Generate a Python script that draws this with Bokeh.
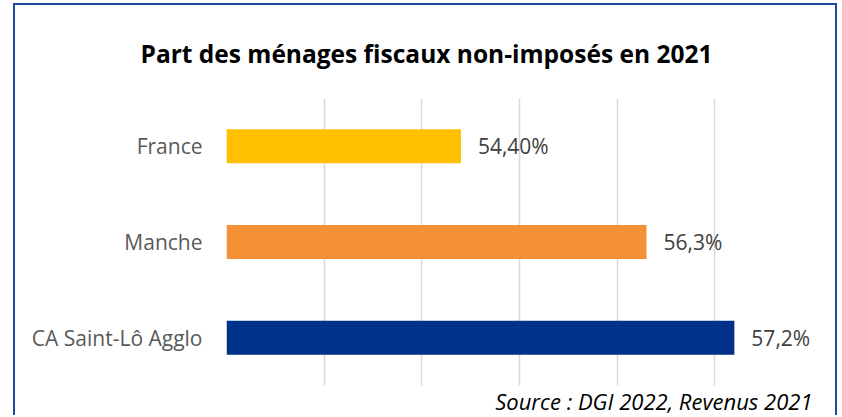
from bokeh.plotting import figure
from bokeh.models import FactorRange, Range1d, FixedTicker, ColumnDataSource, Title
from bokeh.embed import file_html
from bokeh.resources import INLINE
from bokeh.core.properties import value

# data
categories = ["France", "Manche", "CA Saint-Lô Agglo"]
values = [54.40, 56.3, 57.2]
value_labels = ["54,40%", "56,3%", "57,2%"]
colors = ["#FFC000", "#F59134", "#003189"]
grid_ticks = [52, 53, 54, 55, 56, 57, 58]

W, H = 824, 412

p = figure(width=W, height=H, output_backend="svg", toolbar_location=None,
           y_range=FactorRange(factors=list(reversed(categories))),
           x_range=Range1d(52, 58),
           min_border_left=211, min_border_right=27, min_border_top=90, min_border_bottom=27)
p.styles = {"border-left": "2px solid #1F48A3", "border-top": "2px solid #1F48A3",
            "border-right": "2px solid #1F48A3", "margin-left": "13px", "margin-top": "3px"}

src = ColumnDataSource(dict(cat=categories, val=values, lab=value_labels, col=colors,
                            left=[52] * len(values)))
p.hbar(y="cat", left="left", right="val", height=0.355, color="col", source=src, line_color=None)
p.text(x="val", y="cat", text="lab", source=src, x_offset=17, text_align="left",
       text_baseline="middle", text_font=value("Open Sans"), text_font_size="21px",
       text_color="#404040")

p.title.text = "Part des ménages fiscaux non-imposés en 2021"
p.title.text_font = "Open Sans"
p.title.text_font_style = "bold"
p.title.text_font_size = "24.5px"
p.title.align = "left"
p.title.offset = -86
p.title.standoff = 58
p.title.text_color = "#000000"

src_title = Title(text="Source : DGI 2022, Revenus 2021", align="right", vertical_align="top",
                  text_font="Open Sans", text_font_style="italic",
                  text_font_size="22px", text_color="#000000", standoff=0)
p.add_layout(src_title, "below")

p.xaxis.visible = False
p.xgrid.ticker = FixedTicker(ticks=grid_ticks)
p.xgrid.grid_line_color = "#D9D9D9"
p.xgrid.grid_line_width = 1.5
p.ygrid.visible = False

ax = p.yaxis[0]
ax.axis_line_color = None
ax.major_tick_line_color = None
ax.minor_tick_line_color = None
ax.major_label_standoff = 18
ax.major_label_text_font = "Open Sans"
ax.major_label_text_font_size = "21px"
ax.major_label_text_color = "#595959"

p.outline_line_color = None

open("out.html", "w").write(file_html(p, INLINE))
